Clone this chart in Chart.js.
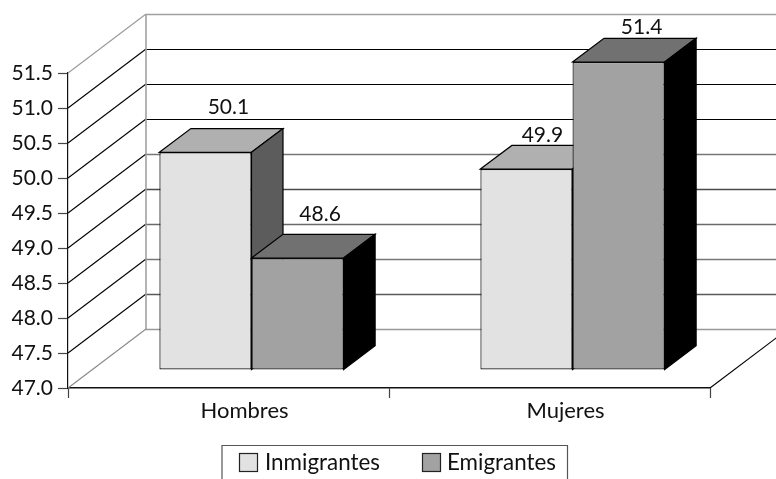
<!DOCTYPE html>
<html><head><meta charset="utf-8">
<style>html,body{margin:0;padding:0;background:#fff;overflow:hidden}#w{width:776px;height:479px;position:relative}</style>
<script src="https://cdn.jsdelivr.net/npm/chart.js@4"></script>
</head><body><div id="w"><canvas id="c" width="776" height="479"></canvas></div>
<script>
const categories = ['Hombres', 'Mujeres'];
const seriesNames = ['Inmigrantes', 'Emigrantes'];
const inmigrantes = [50.11, 49.87];
const emigrantes = [48.6, 51.4];
const yMin = 47.0, yMax = 51.5, yStep = 0.5;

const FONT = 'Lato, "Open Sans", sans-serif';
const SIZE = 21;
const XSIZE = 22;
const LEGEND_SIZE = 22.4;
const faceColors = [
  {front:'#e2e2e2', top:'#b0b0b0', side:'#5c5c5c'},
  {front:'#a2a2a2', top:'#717171', side:'#000000'}
];
const wall = {dx:78, dy:-59};           // depth of the 3D box
const barShift = {dx:23, dy:-18};       // bars stand inside the floor
const barDepth = {dx:31.5, dy:-23.7};
const gridColors = ['#999999','#5a5a5a','#777777','#6a6a6a','#4a4a4a','#777777','#000000','#000000','#000000','#a0a0a0'];
const diagColors = ['#888888','#000000','#000000','#000000','#000000','#000000','#000000','#000000','#000000','#999999'];
const labelNudge = [[[23,-45],[16,-34]],[[22.5,-44],[23,-35]]];

function poly(ctx, pts, fill, stroke){
  ctx.beginPath();
  pts.forEach((p,i)=> i?ctx.lineTo(p[0],p[1]):ctx.moveTo(p[0],p[1]));
  ctx.closePath();
  ctx.fillStyle=fill; ctx.fill();
  ctx.strokeStyle=stroke; ctx.lineWidth=1.2; ctx.lineJoin='miter'; ctx.stroke();
}

const box3d = {
  id:'box3d',
  beforeDatasetsDraw(chart){
    const ctx=chart.ctx, a=chart.chartArea, y=chart.scales.y;
    ctx.save();
    const bx=a.left+wall.dx;
    let i=0;
    for(let v=yMin; v<=yMax+1e-6; v+=yStep, i++){
      const py=Math.round(y.getPixelForValue(v));
      ctx.lineWidth = gridColors[i]==='#000000'?1.2:1.7;
      ctx.strokeStyle=gridColors[i];
      ctx.beginPath(); ctx.moveTo(bx,py+wall.dy+0.5); ctx.lineTo(a.right+wall.dx,py+wall.dy+0.5); ctx.stroke();
      ctx.lineWidth=1.1;
      ctx.strokeStyle=diagColors[i];
      ctx.beginPath(); ctx.moveTo(a.left,py); ctx.lineTo(bx,py+wall.dy); ctx.stroke();
    }
    const top=y.getPixelForValue(yMax)+wall.dy, bot=y.getPixelForValue(yMin)+wall.dy;
    ctx.lineWidth=1.6; ctx.strokeStyle='#a0a0a0';
    ctx.beginPath(); ctx.moveTo(bx,top); ctx.lineTo(bx,bot); ctx.stroke();
    ctx.lineWidth=1.1; ctx.strokeStyle='#000';
    ctx.beginPath(); ctx.moveTo(a.right,a.bottom); ctx.lineTo(a.right+wall.dx,a.bottom+wall.dy); ctx.stroke();
    // bars: first series first, so the second one overlaps it (painter's order of the 3D view)
    ctx.translate(barShift.dx,barShift.dy);
    chart.data.datasets.forEach((ds,di)=>{
      const meta=chart.getDatasetMeta(di), c=faceColors[di];
      meta.controller.draw();
      meta.data.forEach(b=>{
        const l=b.x-b.width/2, r=b.x+b.width/2, t=b.y, f=b.base, d=barDepth;
        poly(ctx,[[l,t],[l+d.dx,t+d.dy],[r+d.dx,t+d.dy],[r,t]],c.top,'#000');
        poly(ctx,[[r,t],[r+d.dx,t+d.dy],[r+d.dx,f+d.dy],[r,f]],c.side,'#000');
      });
    });
    ctx.restore();
  },
  beforeDatasetDraw(){ return false; },
  afterDatasetsDraw(chart){
    const ctx=chart.ctx;
    ctx.save();
    ctx.font=SIZE+'px '+FONT; ctx.fillStyle='#111'; ctx.textAlign='center'; ctx.textBaseline='middle';
    chart.data.datasets.forEach((ds,di)=>{
      chart.getDatasetMeta(di).data.forEach((b,i)=>{
        const n=labelNudge[di][i];
        ctx.fillText(ds.data[i].toFixed(1), b.x+barShift.dx+n[0], b.y+barShift.dy+n[1]);
      });
    });
    // legend
    ctx.font=LEGEND_SIZE+'px '+FONT;
    ctx.strokeStyle='#555'; ctx.lineWidth=1.2;
    ctx.beginPath(); ctx.moveTo(222,481); ctx.lineTo(222,445.5); ctx.lineTo(567.5,445.5); ctx.lineTo(567.5,481); ctx.stroke();
    const lx=[[239,265],[422,447]];
    ctx.textAlign='left';
    chart.data.datasets.forEach((ds,i)=>{
      ctx.fillStyle=ds.backgroundColor; ctx.fillRect(lx[i][0],453,19,19);
      ctx.strokeStyle='#222'; ctx.strokeRect(lx[i][0]+.5,453.5,18,18);
      ctx.fillStyle='#111'; ctx.fillText(ds.label,lx[i][1],463);
    });
    ctx.restore();
  }
};

const barStyle = {base:yMin,borderColor:'#111',borderWidth:1.2,borderSkipped:false};
new Chart(document.getElementById('c'),{
  type:'bar',
  data:{labels:categories,datasets:[
    {label:seriesNames[0],data:inmigrantes,backgroundColor:faceColors[0].front,...barStyle},
    {label:seriesNames[1],data:emigrantes,backgroundColor:faceColors[1].front,...barStyle}
  ]},
  options:{
    responsive:false,animation:false,devicePixelRatio:1,
    layout:{padding:{left:0,top:73,right:66,bottom:51}},
    datasets:{bar:{barPercentage:1,categoryPercentage:0.574}},
    plugins:{legend:{display:false},tooltip:{enabled:false}},
    scales:{
      x:{
        afterFit(s){s.height=40;},
        border:{color:'#111',width:1.4},
        grid:{drawOnChartArea:false,tickLength:10,color:'#444',tickWidth:1.2},
        ticks:{labelOffset:16,padding:0,maxRotation:0,color:'#111',font:{family:FONT,size:XSIZE}}
      },
      y:{
        min:yMin,max:yMax,
        afterFit(s){s.width=68;},
        border:{color:'#111',width:1.2},
        grid:{drawOnChartArea:false,tickLength:10,color:'#444',tickWidth:1.2},
        ticks:{stepSize:yStep,padding:5,color:'#111',font:{family:FONT,size:SIZE},callback:v=>v.toFixed(1)}
      }
    }
  },
  plugins:[box3d]
});
</script></body></html>
